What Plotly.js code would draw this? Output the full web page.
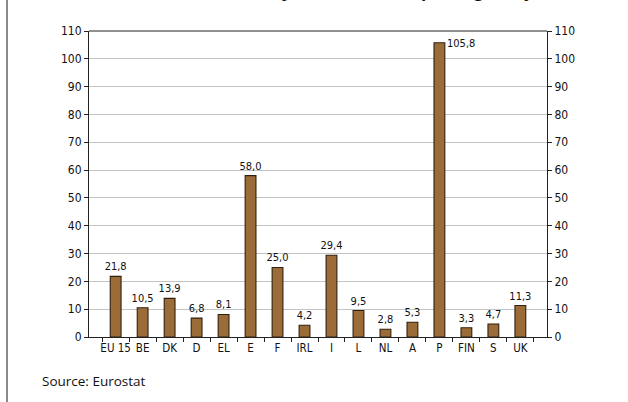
<!DOCTYPE html>
<html>
<head>
<meta charset="utf-8">
<script src="https://cdn.plot.ly/plotly-3.0.1.min.js"></script>
<style>
  html, body { margin: 0; padding: 0; background: #fff; }
  #chart { width: 628px; height: 402px; }
</style>
</head>
<body>
<div id="chart"></div>
<script>
// Member states and their values
const countries = ['EU 15', 'BE', 'DK', 'D', 'EL', 'E', 'F', 'IRL', 'I', 'L', 'NL', 'A', 'P', 'FIN', 'S', 'UK'];
const values = [21.8, 10.5, 13.9, 6.8, 8.1, 58.0, 25.0, 4.2, 29.4, 9.5, 2.8, 5.3, 105.8, 3.3, 4.7, 11.3];
const yTicks = [0, 10, 20, 30, 40, 50, 60, 70, 80, 90, 100, 110];

const narrow = 'DejaVu Sans Condensed, Liberation Sans Narrow, Arial Narrow, sans-serif';
const fmt = v => v.toFixed(1).replace('.', ',');

// the tallest bar carries its label beside it rather than above
const tallest = values.indexOf(Math.max(...values));
const textPos = values.map((v, i) => (i === tallest ? 'none' : 'outside'));

const trace = {
  type: 'bar',
  x: countries,
  y: values,
  width: 0.4,
  marker: { color: '#9c6c38', line: { color: '#2e2010', width: 1.1 } },
  texttemplate: '%{y:.1f}',
  textposition: textPos,
  constraintext: 'none',
  textfont: { family: narrow, size: 11, color: '#111' },
  cliponaxis: false,
  hoverinfo: 'none'
};

const yCommon = {
  range: [0, 110],
  tickvals: yTicks,
  ticks: 'outside',
  ticklen: 4,
  tickcolor: '#222',
  tickfont: { family: narrow, size: 12, color: '#111' },
  showline: true,
  linecolor: '#222',
  linewidth: 1,
  zeroline: false,
  fixedrange: true
};

const layout = {
  width: 628,
  height: 402,
  margin: { l: 89, r: 81, t: 31, b: 65 },
  paper_bgcolor: '#ffffff',
  plot_bgcolor: '#ffffff',
  separators: ', ',
  showlegend: false,
  xaxis: {
    type: 'category',
    tickson: 'boundaries',
    ticks: 'outside',
    ticklen: 4,
    tickcolor: '#222',
    tickangle: 0,
    tickfont: { family: narrow, size: 11.5, color: '#111' },
    showline: true,
    linecolor: '#222',
    linewidth: 1,
    showgrid: false,
    automargin: false,
    mirror: false
  },
  yaxis: Object.assign({}, yCommon, {
    side: 'left',
    showgrid: true,
    gridcolor: '#c4c4c4',
    gridwidth: 1
  }),
  yaxis2: Object.assign({}, yCommon, {
    side: 'right',
    overlaying: 'y',
    showgrid: false
  }),
  shapes: [
    // top border of the plot frame
    { type: 'line', xref: 'paper', yref: 'paper', x0: 0, x1: 1, y0: 1, y1: 1,
      line: { color: '#222', width: 1 } },
    // page rule at the left edge
    { type: 'line', xref: 'paper', yref: 'paper', x0: -0.179, x1: -0.179, y0: -0.3, y1: 1.2,
      line: { color: '#8a8a8a', width: 2 } }
  ],
  annotations: [
    {
      text: '<b>AIDS incidence after adjustments for reporting delays, 2001</b>',
      xref: 'paper', yref: 'paper', x: 1.098, y: 1.088,
      xanchor: 'right', yanchor: 'bottom', showarrow: false,
      font: { family: 'Open Sans, Noto Sans, sans-serif', size: 17, color: '#111' }
    },
    {
      text: fmt(values[tallest]),
      xref: 'x', yref: 'y', x: countries[tallest], y: values[tallest],
      xanchor: 'left', yanchor: 'middle', xshift: 6, yshift: -1, showarrow: false,
      font: { family: narrow, size: 11, color: '#111' }
    },
    {
      text: 'Source: Eurostat',
      xref: 'paper', yref: 'paper', x: -0.107, y: -0.108,
      xanchor: 'left', yanchor: 'top', showarrow: false,
      font: { family: 'Open Sans, Noto Sans, sans-serif', size: 13.5, color: '#111' }
    }
  ]
};

// invisible companion trace so the right-hand axis is drawn with the same scale
const mirrorTrace = {
  type: 'scatter', mode: 'markers', x: countries, y: values, yaxis: 'y2',
  marker: { opacity: 0 }, hoverinfo: 'none'
};

Plotly.newPlot('chart', [trace, mirrorTrace], layout, { displayModeBar: false, staticPlot: true });
</script>
</body>
</html>
